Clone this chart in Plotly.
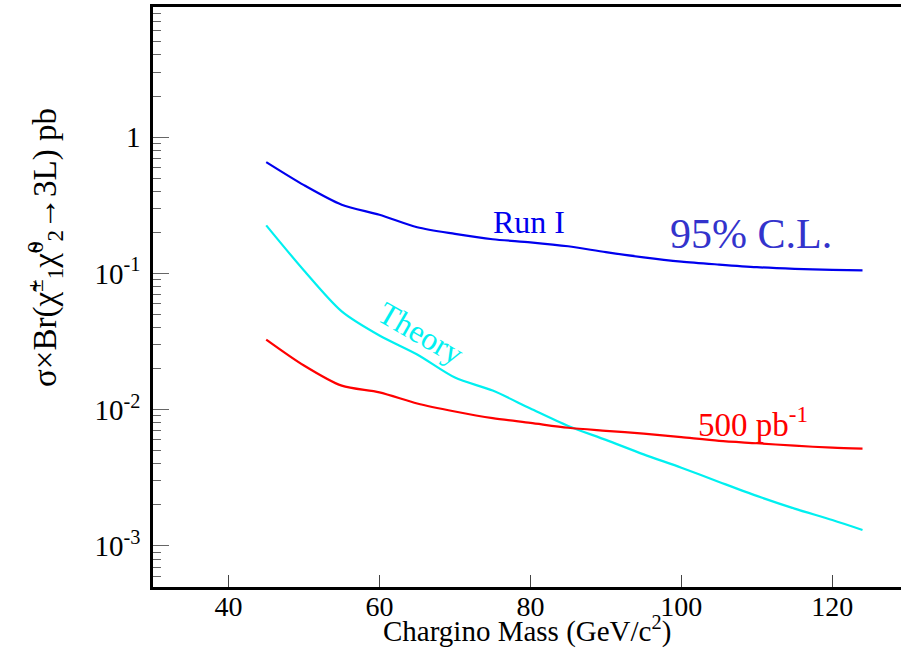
import plotly.graph_objects as go

mass = [45, 50, 55, 60, 65, 70, 75, 80, 85, 90, 95, 100, 105, 110, 115, 120, 124]
run1 = [0.655, 0.444, 0.319, 0.269, 0.218, 0.195, 0.178, 0.169, 0.158, 0.143, 0.131,
        0.122, 0.116, 0.111, 0.108, 0.106, 0.105]
theory = [0.225, 0.105, 0.0526, 0.035, 0.0254, 0.0172, 0.0138, 0.0102, 0.0076, 0.0060,
          0.0047, 0.00375, 0.00295, 0.00233, 0.00188, 0.00155, 0.00131]
lumi500 = [0.0327, 0.0211, 0.0150, 0.0134, 0.0111, 0.0097, 0.00866, 0.0080, 0.00737,
           0.0070, 0.00667, 0.00628, 0.0059, 0.00567, 0.00544, 0.00526, 0.00517]

x_ticks = [40, 60, 80, 100, 120]
y_ticks = [1e-3, 1e-2, 1e-1, 1]
y_ticktext = ["10<sup>-3</sup>", "10<sup>-2</sup>", "10<sup>-1</sup>", "1"]
minor_vals = [m * 10.0 ** e for e in range(-4, 1) for m in range(2, 10)]

FONT = "Liberation Serif"

fig = go.Figure()
for ys, col in [(run1, "#0000ee"), (theory, "#00f0f0"), (lumi500, "#ff0000")]:
    fig.add_trace(go.Scatter(x=mass, y=ys, mode="lines",
                             line=dict(color=col, width=2.2, shape="spline", smoothing=0.8)))

fig.update_layout(
    width=901, height=648,
    margin=dict(l=153, r=0, t=7, b=61),
    paper_bgcolor="white", plot_bgcolor="white",
    showlegend=False,
    font=dict(family=FONT, color="black", size=22),
)
fig.update_xaxes(
    range=[30, 129.1], tickvals=x_ticks, ticks="inside", ticklen=12, tickwidth=1,
    tickcolor="#444", showline=True, linecolor="black", linewidth=2.5, mirror=True,
    showgrid=False, zeroline=False, tickfont=dict(size=28, family=FONT),
    ticklabelstandoff=-7,
)
fig.update_yaxes(
    type="log", range=[-3.301, 0.954], tickvals=y_ticks, ticktext=y_ticktext,
    ticks="inside", ticklen=16, tickwidth=1, tickcolor="#666",
    showline=True, linecolor="black", linewidth=2.5, mirror=False,
    showgrid=False, zeroline=False, tickfont=dict(size=29, family=FONT),
    ticklabelstandoff=4,
    minor=dict(tickmode="array", tickvals=minor_vals, ticks="inside", ticklen=8,
               tickwidth=1, tickcolor="#666", showgrid=False),
)

fig.add_annotation(
    text="Chargino Mass (GeV/c<sup>2</sup>)",
    xref="paper", yref="paper", x=0.5, y=-0.074, showarrow=False,
    font=dict(size=29, family=FONT, color="black"), xanchor="center", yanchor="middle",
)
fig.add_annotation(
    text="σ×Br(χ̃<sup>±</sup><sub>1</sub>χ̃<sup>0</sup><sub>2</sub>→3L) pb",
    xref="paper", yref="paper", x=-0.144, y=0.585, textangle=-90, showarrow=False,
    font=dict(size=33, family=FONT, color="black"), xanchor="center", yanchor="middle",
)
fig.add_annotation(text="Run I", x=79.8, y=-0.625, showarrow=False,
                   font=dict(size=32, family=FONT, color="#0000ee"))
fig.add_annotation(text="95% C.L.", x=109.2, y=-0.713, showarrow=False,
                   font=dict(size=42, family=FONT, color="#3333cc"))
fig.add_annotation(text="Theory", x=65.5, y=-1.434, showarrow=False, textangle=30,
                   font=dict(size=32, family=FONT, color="#00f0f0"))
fig.add_annotation(text="500 pb<sup>-1</sup>", x=109.5, y=-2.088, showarrow=False,
                   font=dict(size=33, family=FONT, color="#ff0000"))

fig.write_html("out.html")
